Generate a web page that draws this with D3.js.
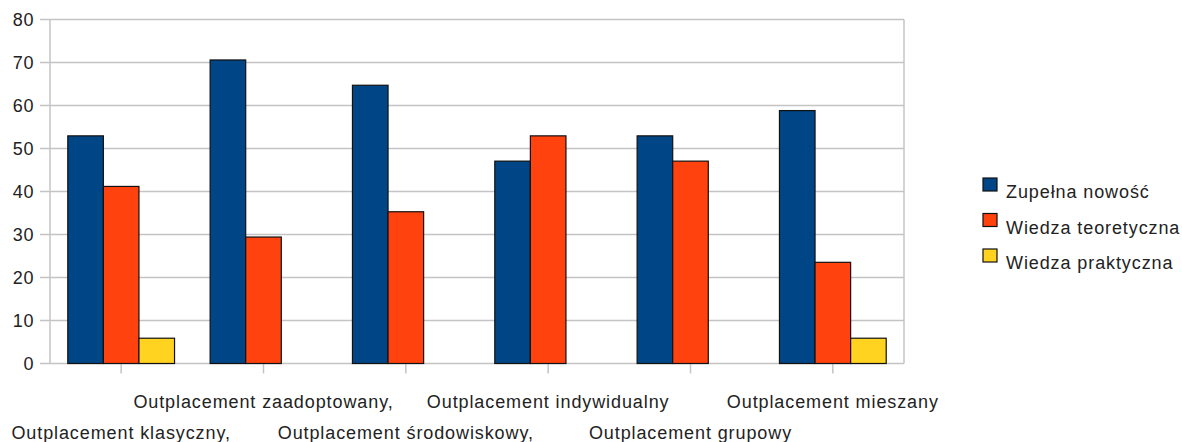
<!DOCTYPE html>
<html>
<head>
<meta charset="utf-8">
<script src="https://cdn.jsdelivr.net/npm/d3@7"></script>
<style>
body { margin: 0; background: #fff; }
text { font-family: "Liberation Sans", Arial, sans-serif; fill: #222; }
</style>
</head>
<body>
<div id="chart"></div>
<script>
var categories = ["Outplacement klasyczny,", "Outplacement zaadoptowany,", "Outplacement środowiskowy,",
	"Outplacement indywidualny", "Outplacement grupowy", "Outplacement mieszany"];
var seriesNames = ["Zupełna nowość", "Wiedza teoretyczna", "Wiedza praktyczna"];
var seriesColors = ["#004586", "#ff420e", "#ffd320"];
var nowosc = [52.94, 70.59, 64.71, 47.06, 52.94, 58.82];
var teoria = [41.18, 29.41, 35.29, 52.94, 47.06, 23.53];
var praktyka = [5.88, 0, 0, 0, 0, 5.88];
var yTicks = [0, 10, 20, 30, 40, 50, 60, 70, 80];

var width = 1182, height = 442;
var plotLeft = 50, plotRight = 904, plotTop = 19.5, plotBottom = 363.5;

var svg = d3.select("#chart").append("svg")
		.attr("width", width)
		.attr("height", height);

var x = d3.scaleBand().domain(d3.range(categories.length)).range([plotLeft, plotRight]).paddingInner(0.25).paddingOuter(0.125);
var xs = d3.scaleBand().domain([0, 1, 2]).range([0, x.bandwidth()]);
var y = d3.scaleLinear().domain([0, 80]).range([plotBottom, plotTop]);

// grid
svg.append("g").selectAll("line")
		.data(yTicks)
		.enter()
		.append("line")
		.attr("x1", plotLeft - 10)
		.attr("x2", plotRight)
		.attr("y1", function(d) {return y(d);})
		.attr("y2", function(d) {return y(d);})
		.style("stroke", "#c4c4c4")
		.style("stroke-width", 1.5);

svg.append("line")
		.attr("x1", plotLeft).attr("x2", plotLeft)
		.attr("y1", plotTop).attr("y2", plotBottom)
		.style("stroke", "#c4c4c4").style("stroke-width", 1.5);
svg.append("line")
		.attr("x1", plotRight).attr("x2", plotRight)
		.attr("y1", plotTop).attr("y2", plotBottom)
		.style("stroke", "#c4c4c4").style("stroke-width", 1.5);

// category ticks
svg.append("g").selectAll("line")
		.data(categories)
		.enter()
		.append("line")
		.attr("x1", function(d, i) {return x(i) + x.bandwidth() / 2;})
		.attr("x2", function(d, i) {return x(i) + x.bandwidth() / 2;})
		.attr("y1", plotBottom)
		.attr("y2", plotBottom + 10)
		.style("stroke", "#c4c4c4")
		.style("stroke-width", 1.5);

// y labels
svg.append("g").selectAll("text")
		.data(yTicks)
		.enter()
		.append("text")
		.attr("x", 34)
		.attr("y", function(d) {return y(d) + 6.5;})
		.attr("text-anchor", "end")
		.style("font-size", "18px")
		.style("letter-spacing", "0.6px")
		.text(function(d) {return d;});

// bars (zero values have no bar, slot stays empty)
var series = [nowosc, teoria, praktyka];
series.forEach(function(values, s) {
	var pts = values.map(function(v, i) {return {i: i, v: v};})
			.filter(function(d) {return d.v > 0;});
	svg.append("g").selectAll("rect")
			.data(pts)
			.enter()
			.append("rect")
			.attr("x", function(d) {return x(d.i) + xs(s);})
			.attr("y", function(d) {return y(d.v);})
			.attr("width", xs.bandwidth())
			.attr("height", function(d) {return plotBottom - y(d.v);})
			.style("fill", seriesColors[s])
			.style("stroke", "#111")
			.style("stroke-width", 1.2);
});

// x labels, staggered in two rows
svg.append("g").selectAll("text")
		.data(categories)
		.enter()
		.append("text")
		.attr("x", function(d, i) {return x(i) + x.bandwidth() / 2;})
		.attr("y", function(d, i) {return i % 2 == 1 ? 408 : 439;})
		.attr("text-anchor", "middle")
		.style("font-size", "18px")
		.style("letter-spacing", "0.9px")
		.text(function(d) {return d;});

// legend
var legend = svg.append("g").selectAll("g")
		.data(seriesNames)
		.enter()
		.append("g")
		.attr("transform", function(d, i) {return "translate(983," + (178 + i * 35.5) + ")";});

legend.append("rect")
		.attr("width", 14)
		.attr("height", 13)
		.style("fill", function(d, i) {return seriesColors[i];})
		.style("stroke", "#111")
		.style("stroke-width", 1.2);

legend.append("text")
		.attr("x", 23)
		.attr("y", 20)
		.style("font-size", "18px")
		.style("letter-spacing", "0.9px")
		.text(function(d) {return d;});
</script>
</body>
</html>
